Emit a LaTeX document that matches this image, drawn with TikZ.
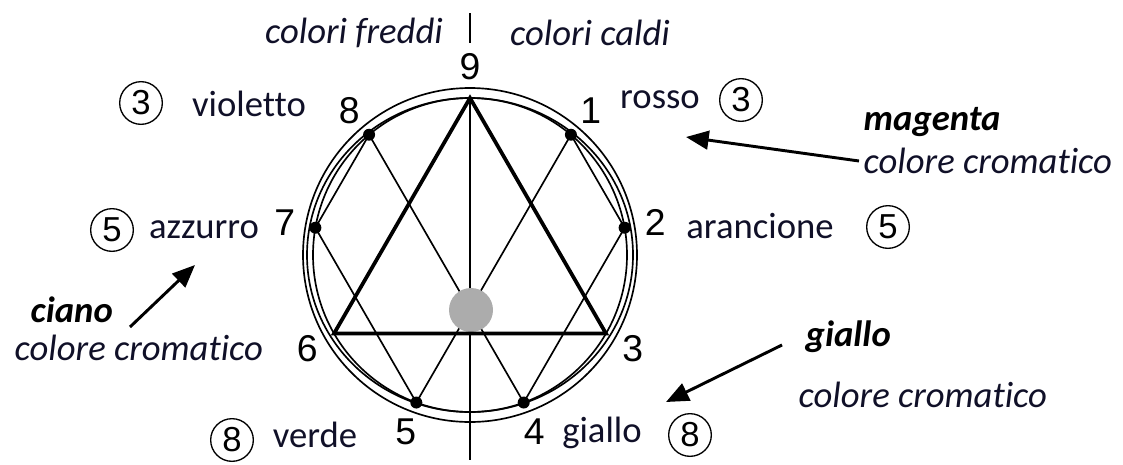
\documentclass[tikz,border=0pt]{standalone}
\usepackage{fontspec}
\setmainfont{Carlito}[Ligatures=NoCommon]
\newfontfamily\arialfont{Liberation Sans}
\usetikzlibrary{calc}
\usetikzlibrary{arrows.meta}
\definecolor{inkblue}{RGB}{16,16,40}
\definecolor{coregray}{RGB}{172,172,172}
\tikzset{
  num/.style={font=\arialfont\fontsize{28}{32}\selectfont},
  word/.style={font=\fontsize{27.5}{32}\selectfont, text=inkblue},
  itword/.style={font=\itshape\fontsize{27.5}{32}\selectfont, text=inkblue},
  bfword/.style={font=\bfseries\itshape\fontsize{27.5}{32}\selectfont},
  ring/.style={draw, circle, line width=1pt, minimum size=32pt, inner sep=0pt, font=\arialfont\fontsize{26}{30}\selectfont},
  bead/.style={circle, fill=black, inner sep=0pt, minimum size=9pt},
  thin/.style={line width=1.25pt},
  pointer/.style={line width=2.2pt, -{Triangle[length=17pt,width=14pt]}}
}

\begin{document}
\begin{tikzpicture}[x=0.75pt,y=-0.75pt]
\useasboundingbox (0,0) rectangle (1123,464);
\coordinate (c) at (470,255);
\foreach \k in {1,...,9} {
 \coordinate (p\k) at ($(c)+({40*\k-90}:157)$);
}
% circles
\draw[thin] (c) circle[radius=157];
\draw[thin] (c) ellipse[x radius=163, y radius=157];
\draw[thin] (c) circle[radius=167];
% axis
\coordinate (tickA) at (470,13);
\coordinate (tickB) at (470,43);
\coordinate (axisend) at (470,460);
\draw[thin] (tickA) -- (tickB);
\draw[thin] (p9) -- (axisend);
% star lines
\draw[thin] (p1) -- (p2) (p7) -- (p8) (p1) -- (p5) (p8) -- (p4) (p7) -- (p5) (p2) -- (p4);
\node[circle, fill=coregray, minimum size=33pt, inner sep=0pt] (core) at (471,310) {};
\draw[line width=2.8pt, line join=miter] (p9) -- (p3) -- (p6) -- cycle;
\foreach \k in {1,2,4,5,7,8} {
 \node[bead] (b\k) at (p\k) {};
}
\foreach \k in {1,...,9} {
 \node[num] (n\k) at ($(c)+({40*\k-90}:188)$) {\k};
}
% top labels
\node[itword] (cold) at (354,33) {colori freddi};
\node[itword] (warm) at (590,33) {colori caldi};
% colour names
\node[ring] (r3a) at (141,103) {3};
\node[word] (violetto) at (249,104) {violetto};
\node[ring] (r5a) at (112,230) {5};
\node[word] (azzurro) at (204,230) {azzurro};
\node[ring] (r8a) at (232,440) {8};
\node[word] (verde) at (315,435) {verde};
\node[word] (rosso) at (660,100) {rosso};
\node[ring] (r3b) at (741,100) {3};
\node[word] (arancione) at (760,226) {arancione};
\node[ring] (r5b) at (888,227) {5};
\node[word] (giallo) at (602,433) {giallo};
\node[ring] (r8b) at (690,435) {8};
% primaries
\node[bfword, anchor=west] (ciano) at (26,310) {ciano};
\node[itword, anchor=west] (cromA) at (10,348) {colore cromatico};
\node[bfword, anchor=west] (magenta) at (859,122) {magenta};
\node[itword, anchor=west] (cromB) at (859,161) {colore cromatico};
\node[bfword, anchor=west] (yellow) at (801,337) {giallo};
\node[itword, anchor=west] (cromC) at (794,395) {colore cromatico};
\coordinate (tipA) at (195,265);
\coordinate (tailA) at (130,327);
\coordinate (tipB) at (686,137);
\coordinate (tipC) at (666,402);
\coordinate (tailC) at (782,345);
\draw[pointer] (tailA) -- (tipA);
\draw[pointer] (cromB.west) -- (tipB);
\draw[pointer] (tailC) -- (tipC);
\end{tikzpicture}
\end{document}
